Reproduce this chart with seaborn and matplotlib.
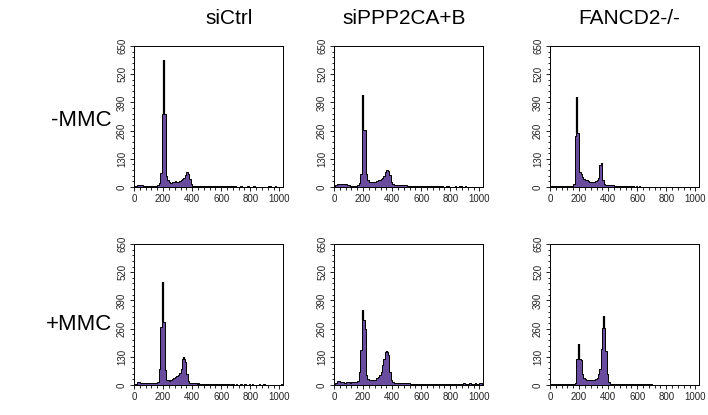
import numpy as np
import pandas as pd
import seaborn as sns
import matplotlib.pyplot as plt
from matplotlib.ticker import MultipleLocator, AutoMinorLocator

sns.set_style("white")
plt.rcParams["font.family"] = ["Liberation Sans", "DejaVu Sans"]
plt.rcParams["text.color"] = "black"
plt.rcParams["xtick.color"] = "#222222"
plt.rcParams["ytick.color"] = "#222222"

# DNA content histograms, bin width 10 (0 .. 1020)
bin_edges = list(range(0, 1030, 10))

ctrl_mmc_neg = [4, 6, 10, 10, 8, 9, 4, 3, 4, 3, 3, 4, 3, 3, 4, 3, 10, 20, 64, 335,
                335, 335, 53, 30, 22, 18, 22, 25, 26, 25, 24, 28, 32, 36, 40, 55, 68, 62, 35, 12,
                6, 5, 5, 4, 5, 5, 4, 5, 4, 4, 5, 4, 4, 5, 4, 4, 4, 3, 4, 4,
                3, 4, 3, 3, 4, 3, 3, 3, 4, 5, 2, 1, 2, 3, 1, 1, 1, 1, 4, 1,
                1, 1, 3, 1, 1, 1, 1, 1, 2, 1, 1, 1, 4, 5, 1, 1, 1, 4, 1, 1,
                1, 1]
pp2a_mmc_neg = [5, 8, 14, 15, 14, 15, 13, 14, 12, 10, 7, 6, 6, 5, 6, 6, 7, 20, 60, 262,
                262, 262, 60, 30, 25, 24, 23, 24, 25, 26, 30, 34, 37, 40, 52, 70, 77, 75, 55, 25,
                14, 9, 8, 9, 10, 9, 10, 9, 8, 7, 6, 5, 5, 5, 4, 5, 5, 4, 4, 5,
                4, 4, 5, 4, 4, 4, 5, 4, 4, 4, 3, 4, 4, 3, 4, 2, 2, 3, 4, 2,
                1, 2, 1, 4, 2, 2, 4, 3, 1, 2, 4, 2, 2, 1, 1, 1, 2, 1, 1, 1,
                1, 1]
fancd2_mmc_neg = [3, 4, 6, 6, 5, 6, 5, 4, 3, 3, 3, 4, 3, 3, 3, 4, 15, 233, 250, 250,
                  71, 60, 45, 38, 33, 30, 27, 25, 24, 24, 25, 26, 30, 42, 100, 105, 30, 14, 9, 8,
                  8, 7, 7, 7, 6, 6, 6, 6, 6, 5, 5, 5, 5, 5, 5, 4, 3, 3, 2, 3,
                  2, 3, 2, 1, 1, 1, 1, 1, 1, 1, 1, 0, 1, 0, 0, 1, 0, 0, 0, 0,
                  0, 0, 0, 0, 0, 0, 0, 0, 0, 0, 0, 0, 0, 0, 0, 0, 0, 0, 0, 0,
                  0, 0]
ctrl_mmc_pos = [5, 6, 15, 12, 9, 8, 9, 8, 9, 9, 8, 9, 8, 9, 9, 10, 12, 72, 267, 290,
                290, 67, 25, 21, 18, 22, 26, 30, 35, 40, 46, 57, 75, 118, 118, 108, 49, 18, 9, 8,
                10, 10, 7, 6, 7, 6, 6, 6, 6, 6, 5, 6, 5, 5, 5, 6, 5, 5, 5, 4,
                5, 4, 5, 4, 4, 3, 2, 3, 4, 2, 3, 2, 2, 3, 2, 2, 4, 2, 2, 3,
                2, 4, 2, 2, 2, 2, 3, 2, 2, 4, 2, 2, 2, 2, 2, 2, 2, 2, 2, 2,
                2, 3]
pp2a_mmc_pos = [5, 8, 18, 17, 16, 14, 12, 11, 12, 13, 12, 11, 12, 13, 12, 14, 20, 60, 160, 300,
                300, 260, 46, 28, 24, 22, 22, 23, 24, 30, 38, 48, 62, 92, 120, 150, 153, 140, 61, 25,
                12, 9, 8, 8, 9, 8, 8, 10, 9, 10, 8, 9, 5, 5, 4, 5, 5, 4, 5, 4,
                4, 5, 4, 4, 5, 4, 4, 4, 5, 4, 4, 4, 4, 3, 4, 4, 3, 4, 4, 3,
                4, 4, 3, 4, 3, 5, 6, 4, 5, 7, 4, 6, 5, 8, 4, 6, 5, 7, 5, 6,
                8, 10]
fancd2_mmc_pos = [4, 5, 6, 5, 5, 6, 5, 4, 5, 5, 4, 5, 5, 4, 5, 5, 6, 10, 122, 122,
                  122, 116, 50, 32, 27, 24, 22, 22, 23, 24, 25, 28, 34, 50, 75, 165, 263, 263, 157, 50,
                  15, 6, 6, 5, 6, 5, 5, 6, 5, 5, 5, 6, 5, 5, 5, 4, 5, 5, 4, 5,
                  4, 4, 5, 4, 4, 4, 5, 4, 4, 4, 2, 2, 1, 2, 1, 1, 2, 1, 1, 1,
                  2, 1, 1, 1, 1, 1, 1, 1, 1, 1, 1, 1, 1, 1, 1, 1, 1, 1, 1, 1,
                  1, 1]

# narrow black peaks that rise above the purple fill
ctrl_neg_spike_x, ctrl_neg_spike_top = [204], [586]
pp2a_neg_spike_x, pp2a_neg_spike_top = [198], [425]
fancd2_neg_spike_x, fancd2_neg_spike_top = [188, 355], [413, 112]
ctrl_pos_spike_x, ctrl_pos_spike_top = [198, 342], [473, 130]
pp2a_pos_spike_x, pp2a_pos_spike_top = [200, 362], [344, 157]
fancd2_pos_spike_x, fancd2_pos_spike_top = [200, 369], [190, 317]

col_titles = ["siCtrl", "siPPP2CA+B", "FANCD2-/-"]
row_labels = ["-MMC", "+MMC"]

panels = [
    [(ctrl_mmc_neg, ctrl_neg_spike_x, ctrl_neg_spike_top),
     (pp2a_mmc_neg, pp2a_neg_spike_x, pp2a_neg_spike_top),
     (fancd2_mmc_neg, fancd2_neg_spike_x, fancd2_neg_spike_top)],
    [(ctrl_mmc_pos, ctrl_pos_spike_x, ctrl_pos_spike_top),
     (pp2a_mmc_pos, pp2a_pos_spike_x, pp2a_pos_spike_top),
     (fancd2_mmc_pos, fancd2_pos_spike_x, fancd2_pos_spike_top)],
]

purple = "#6a4c9e"
W, H = 708, 415
fig = plt.figure(figsize=(7.08, 4.15), dpi=100)

col_left = [134, 334, 550]
row_top = [46, 244]
ax_w, ax_h = 149, 141
centers = [e + 5 for e in bin_edges[:-1]]

for r in range(2):
    for c in range(3):
        counts, sx, stop = panels[r][c]
        df = pd.DataFrame({"dna": centers, "n": counts})
        ax = fig.add_axes([col_left[c] / W, (H - row_top[r] - ax_h) / H, ax_w / W, ax_h / H])
        sns.histplot(data=df, x="dna", weights="n", bins=bin_edges, element="step", fill=True,
                     color=purple, edgecolor="black", linewidth=0.7, alpha=1, ax=ax)
        base = [counts[int(x // 10)] for x in sx]
        ax.vlines(sx, base, stop, color="black", linewidth=1.6)
        ax.set_xlim(0, 1025)
        ax.set_ylim(0, 650)
        ax.set_xlabel("")
        ax.set_ylabel("")
        ax.xaxis.set_major_locator(MultipleLocator(200))
        ax.yaxis.set_major_locator(MultipleLocator(130))
        ax.xaxis.set_minor_locator(AutoMinorLocator(5))
        ax.yaxis.set_minor_locator(AutoMinorLocator(5))
        ax.tick_params(which="both", direction="out", bottom=True, left=True,
                       labelsize=7, width=0.7, pad=2)
        ax.tick_params(which="major", length=3)
        ax.tick_params(which="minor", length=1.8)
        for lab in ax.get_yticklabels():
            lab.set_rotation(90)
            lab.set_va("center")
        for s in ax.spines.values():
            s.set_color("black")
            s.set_linewidth(0.7)

titles_x = [229, 404, 629]
for t, x in zip(col_titles, titles_x):
    fig.text(x / W, 1 - 18 / H, t, ha="center", va="center", fontsize=15)

rows_y = [120, 325]
for t, y in zip(row_labels, rows_y):
    fig.text(112 / W, 1 - y / H, t, ha="right", va="center", fontsize=16)

fig.savefig("out.png", dpi=100)
